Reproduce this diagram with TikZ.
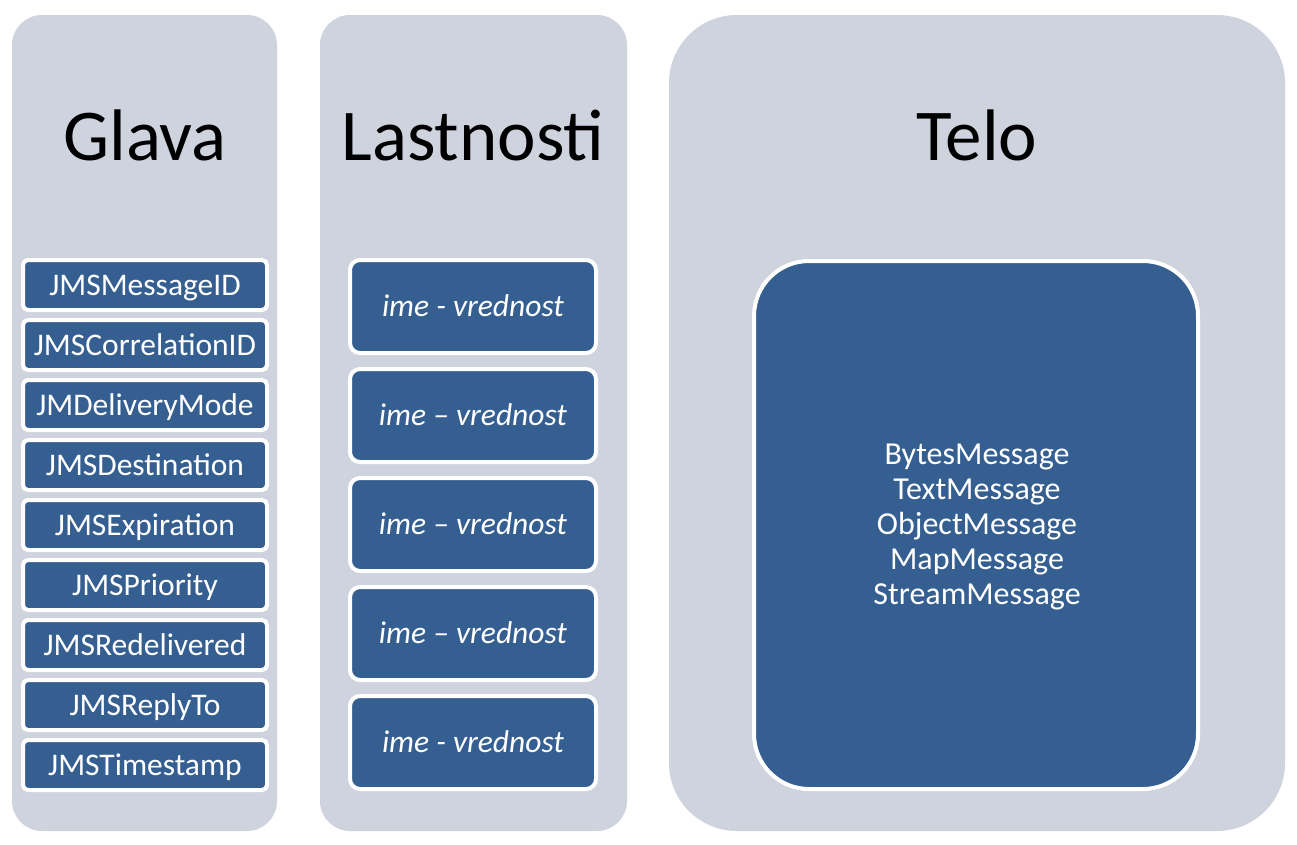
\documentclass[tikz,border=0pt]{standalone}
\usepackage{fontspec}
\setmainfont{Carlito}
\definecolor{panelgray}{HTML}{CED3DE}
\definecolor{boxblue}{HTML}{365F91}
\begin{document}
\begin{tikzpicture}[x=1pt,y=-1pt,
  panel/.style={fill=panelgray, draw=none},
  title/.style={anchor=base, font=\fontsize{73}{80}\selectfont, text=black},
  hbox/.style={draw=white, line width=4pt, fill=boxblue, rounded corners=5pt,
    minimum width=244pt, minimum height=50pt, inner sep=0pt, text=white,
    text height=20pt, text depth=0pt, font=\fontsize{31.5}{36}\selectfont},
  pbox/.style={draw=white, line width=4pt, fill=boxblue, rounded corners=10pt,
    minimum width=246pt, minimum height=93pt, inner sep=0pt, text=white,
    text height=19pt, text depth=0pt, font=\fontsize{31.5}{36}\itshape},
  tbox/.style={draw=white, line width=4pt, fill=boxblue, rounded corners=55pt,
    minimum width=444pt, minimum height=528pt, inner sep=0pt},
  ttext/.style={text=white, align=center, font=\fontsize{32}{35}\selectfont}
]
\useasboundingbox (0,0) rectangle (1297,844);
\fill[white] (0,0) rectangle (1297,844);
% panels
\path[panel, rounded corners=30pt] (12,15) rectangle (277,831);
\path[panel, rounded corners=30pt] (320,15) rectangle (627,831);
\path[panel, rounded corners=68pt] (669,15) rectangle (1285,831);
% titles
\node[title] (tg) at (145,160) {Glava};
\node[title] (tl) at (473,160) {Lastnosti};
\node[title] (tt) at (977,160) {Telo};
% Glava boxes
\node[hbox] (h1) at (145,285) {JMSMessageID};
\node[hbox] (h2) at (145,345) {JMSCorrelationID};
\node[hbox] (h3) at (145,405) {JMDeliveryMode};
\node[hbox] (h4) at (145,465) {JMSDestination};
\node[hbox] (h5) at (145,525) {JMSExpiration};
\node[hbox] (h6) at (145,585) {JMSPriority};
\node[hbox] (h7) at (145,645) {JMSRedelivered};
\node[hbox] (h8) at (145,705) {JMSReplyTo};
\node[hbox] (h9) at (145,765) {JMSTimestamp};
% Lastnosti boxes
\node[pbox] (p1) at (473,306.5) {ime - vrednost};
\node[pbox] (p2) at (473,415.5) {ime – vrednost};
\node[pbox] (p3) at (473,524.5) {ime – vrednost};
\node[pbox] (p4) at (473,633.5) {ime – vrednost};
\node[pbox] (p5) at (473,742.5) {ime - vrednost};
% Telo box
\node[tbox] (tb) at (976,525) {};
\node[ttext] (tx) at (977,527) {BytesMessage\\TextMessage\\ObjectMessage\\MapMessage\\StreamMessage};
\end{tikzpicture}
\end{document}
